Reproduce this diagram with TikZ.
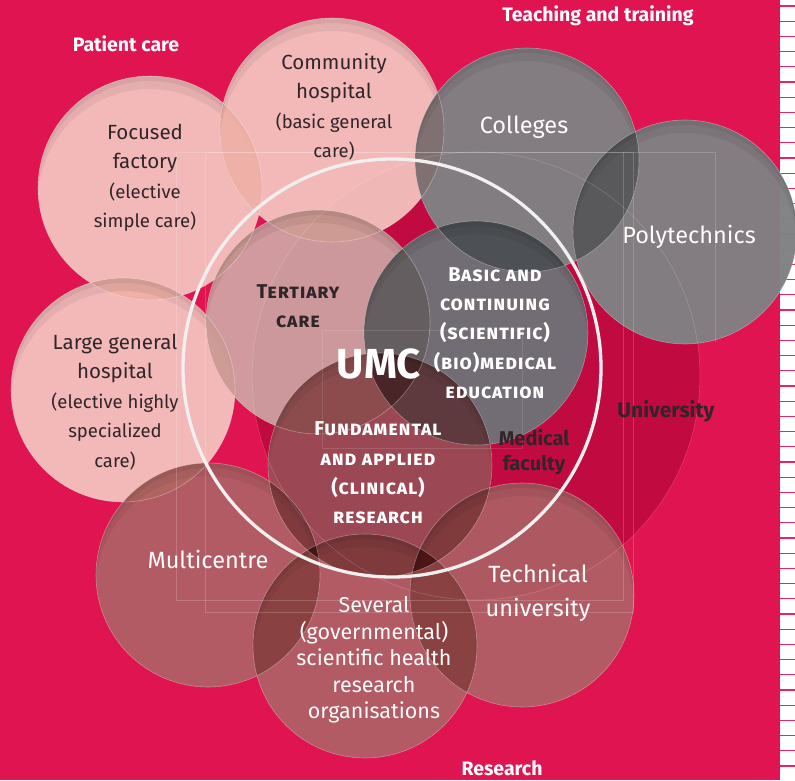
\documentclass[tikz,border=0pt]{standalone}
\usepackage{fontspec}
\setmainfont{Fira Sans}
\definecolor{backred}{RGB}{224,20,80}
\definecolor{univred}{RGB}{192,10,64}
\definecolor{pinkb}{RGB}{245,203,196}
\definecolor{greyb}{RGB}{128,129,131}
\definecolor{mauveb}{RGB}{207,178,172}
\definecolor{slateb}{RGB}{110,115,119}
\definecolor{maroonb}{RGB}{150,84,88}
\definecolor{roseb}{RGB}{172,104,104}
\definecolor{darktext}{RGB}{48,38,42}
\definecolor{tickred}{RGB}{226,40,96}
\newcommand\smallpart[1]{{\fontsize{18.5}{29.5}\selectfont #1}}
\tikzset{
  tick/.style={tickred, line width=1.3pt},
  frame/.style={white, opacity=.18, line width=.6pt},
  umcring/.style={white!88!gray, line width=3.3pt},
  rim/.style={draw=white, draw opacity=.35, line width=.6pt},
  gloss/.style={black, opacity=.06, even odd rule},
  darklabel/.style={text=darktext, align=center, font=\fontsize{20.5}{29.5}\selectfont},
  whitelabel/.style={text=white!96!pink, align=center, font=\fontsize{23.5}{34}\selectfont},
  caplabel/.style={align=center, font=\fontsize{20}{29.3}\selectfont\bfseries\scshape\addfontfeatures{LetterSpace=4}},
  header/.style={text=white, font=\fontsize{19.5}{24}\selectfont\bfseries},
}
% bubbles: name / centre / colour / opacity
\def\bubblelist{focus/150/188/pinkb/.9, commun/332/130/pinkb/.9, large/123/390/pinkb/.9,
  tert/318/322/mauveb/.85, colleg/527/160/greyb/.97, poly/685/232/greyb/.97,
  basic/476/333/slateb/.95, fund/380/465/maroonb/.85, multi/208/575/roseb/.85,
  several/365/646/roseb/.85, techn/522/595/roseb/.85}
\begin{document}
\begin{tikzpicture}[x=1pt,y=-1pt]
  \useasboundingbox (0,0) rectangle (795,780);
  \fill[backred] (0,0) rectangle (780,780);
  \fill[white] (780,0) rectangle (795,780);
  \foreach \k in {0,...,50}{
    \draw[tick] (780,6+15.2*\k) -- (795,6+15.2*\k);
  }

  % university and its faculty
  \coordinate (univ) at (476,376);
  \coordinate (umc) at (392,368);
  \fill[univred] (univ) circle[radius=224];

  % the bubbles
  \foreach \b/\x/\y/\c/\o in \bubblelist{
    \coordinate (\b) at (\x,\y);
    \fill[\c, fill opacity=\o] (\b) circle[radius=112];
    \begin{scope}
      \clip (\b) circle[radius=112];
      \fill[gloss] (\b) circle[radius=112] ([yshift=-5pt]\b) circle[radius=112];
      \fill[gloss] (\b) circle[radius=112] ([yshift=-13pt]\b) circle[radius=112];
    \end{scope}
  }
  % darker where two bubbles overlap
  \foreach \lo/\lx/\ly/\lc/\lop [count=\i] in \bubblelist{
    \foreach \hi/\hx/\hy/\hc/\hop [count=\j] in \bubblelist{
      \ifnum\i<\j
        \begin{scope}[blend mode=multiply]
          \clip (\lo) circle[radius=112];
          \fill[\lc, opacity=.6] (\hi) circle[radius=112];
        \end{scope}
      \fi
    }
  }
  \foreach \b/\x/\y/\c/\o in \bubblelist{
    \draw[rim] (\b) circle[radius=112];
  }
  \draw[frame] (univ) circle[radius=224];

  % guide frames
  \draw[frame] (176,152) rectangle (623,600);
  \draw[frame] (205,152) rectangle (633,612);
  \draw[frame] (623,152) -- (715,152) -- (715,342);
  \draw[frame, opacity=.12] (322,330) rectangle (522,448);

  \draw[umcring] (umc) circle[radius=209];

  % labels
  \node[header] (care) at (126,44) {Patient care};
  \node[header] (teach) at (598,16) {Teaching and training};
  \node[header] (res) at (502,768) {Research};

  \node[darklabel] (focustxt) at (145,178) {Focused\\factory\\\smallpart{(elective}\\\smallpart{simple care)}};
  \node[darklabel] (communtxt) at (334,107) {Community\\hospital\\\smallpart{(basic general}\\\smallpart{care)}};
  \node[darklabel] (largetxt) at (115,402) {Large general\\hospital\\\smallpart{(elective highly}\\\smallpart{specialized}\\\smallpart{care)}};

  \node[whitelabel] (collegtxt) at (524,127) {Colleges};
  \node[whitelabel] (polytxt) at (689,237) {Polytechnics};
  \node[whitelabel] (multitxt) at (208,559) {Multicentre};
  \node[whitelabel] (techntxt) at (538,593) {Technical\\university};
  \node[whitelabel, font=\fontsize{21.5}{26.5}\selectfont] (severaltxt) at (374,660)
    {Several\\(governmental)\\scientific health\\research\\organisations};

  \node[caplabel, text=darktext] (terttxt) at (298,306) {Tertiary\\care};
  \node[caplabel, text=white] (basictxt) at (495,333) {Basic and\\continuing\\(scientific)\\(bio)medical\\education};
  \node[caplabel, text=white] (fundtxt) at (378,473) {Fundamental\\and applied\\(clinical)\\research};

  \node[text=darktext, align=center, font=\fontsize{20}{25}\selectfont\bfseries] (facultytxt) at (534,452) {Medical\\faculty};
  \node[text=darktext, font=\fontsize{21}{25}\selectfont\bfseries] (univtxt) at (666,411) {University};
  \node[text=white, font=\fontsize{42}{48}\selectfont\bfseries] (umctxt) at (379,364) {UMC};
\end{tikzpicture}
\end{document}
